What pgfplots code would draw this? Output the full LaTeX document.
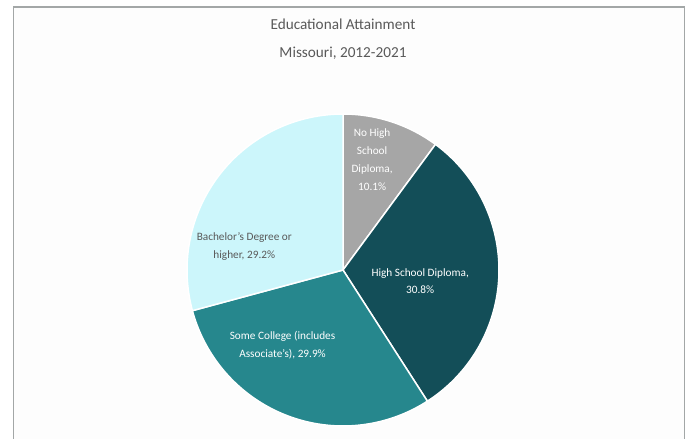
\documentclass[border=0pt]{standalone}
\usepackage{pgfplots}
\pgfplotsset{compat=1.18}
\usepgfplotslibrary{polar}
\usepackage{fontspec}
\setmainfont{Carlito}
\definecolor{cNo}{HTML}{A6A6A6}
\definecolor{cHS}{HTML}{134E58}
\definecolor{cSC}{HTML}{26878D}
\definecolor{cBA}{HTML}{CCF6FB}
\definecolor{titlec}{HTML}{595959}
\definecolor{framec}{HTML}{A3A7A7}
\definecolor{bgc}{HTML}{FDFDFD}
% shares (percent), clockwise from 12 o'clock
\def\pA{10.1}\def\pB{30.8}\def\pC{29.9}\def\pD{29.2}
\pgfmathsetmacro\aA{90}
\pgfmathsetmacro\aB{\aA-3.6*\pA}
\pgfmathsetmacro\aC{\aB-3.6*\pB}
\pgfmathsetmacro\aD{\aC-3.6*\pC}
\pgfmathsetmacro\aE{\aD-3.6*\pD}
\begin{document}
\begin{tikzpicture}
\useasboundingbox (0,0) rectangle (687bp,439bp);
\fill[white] (0,0) rectangle (687bp,439bp);
\fill[bgc] (13.5bp,0) rectangle (684.5bp,432bp);
\draw[framec, line width=1.5bp] (13.5bp,0) -- (13.5bp,432bp) -- (684.5bp,432bp) -- (684.5bp,0);
\node[font=\fontsize{15.3}{18}\selectfont, text=titlec] at (343bp,415bp) {Educational Attainment};
\node[font=\fontsize{15.3}{18}\selectfont, text=titlec] at (343bp,386bp) {Missouri, 2012-2021};
\begin{polaraxis}[at={(343bp,169bp)}, anchor=center, scale only axis,
  width=312bp, height=312bp, hide axis, ymin=0, ymax=1, clip=false]
\addplot[fill=cNo, draw=white, line width=1.5bp, domain=\aB:\aA, samples=40] {1} -- (axis cs:0,0) -- cycle;
\addplot[fill=cHS, draw=white, line width=1.5bp, domain=\aC:\aB, samples=80] {1} -- (axis cs:0,0) -- cycle;
\addplot[fill=cSC, draw=white, line width=1.5bp, domain=\aD:\aC, samples=80] {1} -- (axis cs:0,0) -- cycle;
\addplot[fill=cBA, draw=white, line width=1.5bp, domain=\aE:\aD, samples=80] {1} -- (axis cs:0,0) -- cycle;
\node[align=center, text=white, font=\fontsize{11.3}{18}\selectfont] at (axis cs:75.2,0.73) {No High\\School\\Diploma,\\10.1\%};
\node[align=center, text=white, font=\fontsize{11.3}{18}\selectfont] at (axis cs:-8.2,0.50) {High School Diploma,\\30.8\%};
\node[align=center, text=white, font=\fontsize{11.3}{18}\selectfont] at (axis cs:-128.7,0.62) {Some College (includes\\Associate's), 29.9\%};
\node[align=center, text=titlec, font=\fontsize{11.3}{18}\selectfont] at (axis cs:166.8,0.65) {Bachelor's Degree or\\higher, 29.2\%};
\end{polaraxis}
\end{tikzpicture}
\end{document}
